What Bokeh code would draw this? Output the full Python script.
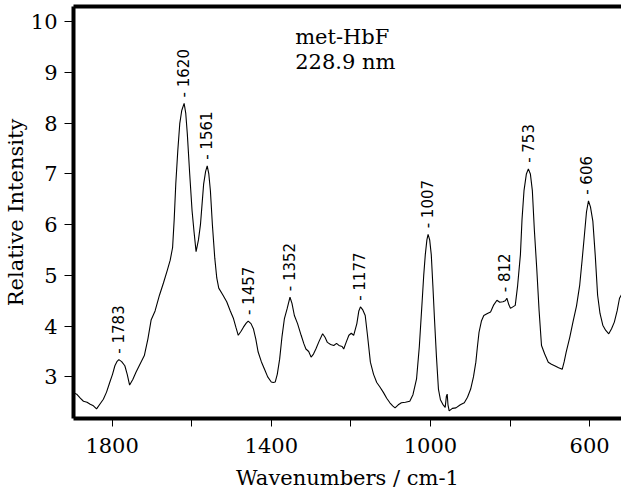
import math
from bokeh.plotting import figure
from bokeh.models import Range1d, FixedTicker, LinearAxis, Label
from bokeh.core.properties import value
from bokeh.embed import file_html
from bokeh.resources import INLINE

# Spectrum (wavenumber in cm-1, relative intensity)
wavenumber = [1897, 1889, 1880, 1872, 1863, 1855, 1847, 1839, 1830, 1822, 1814, 1806, 1799, 1793,
              1788, 1783, 1776, 1768, 1762, 1756, 1748, 1740, 1730, 1719, 1710, 1702, 1692, 1681,
              1671, 1661, 1654, 1648, 1644, 1640, 1635, 1630, 1625, 1619, 1615, 1611, 1605, 1599,
              1594, 1589, 1583, 1578, 1574, 1570, 1565, 1561, 1557, 1553, 1548, 1542, 1537, 1532,
              1522, 1512, 1503, 1495, 1489, 1483, 1476, 1470, 1463, 1458, 1451, 1445, 1439, 1433,
              1425, 1417, 1409, 1400, 1395, 1390, 1385, 1379, 1373, 1367, 1360, 1353, 1348, 1342,
              1334, 1325, 1318, 1313, 1306, 1300, 1294, 1288, 1280, 1271, 1265, 1259, 1251, 1243,
              1236, 1230, 1222, 1218, 1211, 1205, 1199, 1193, 1185, 1180, 1176, 1170, 1164, 1158,
              1151, 1143, 1135, 1127, 1118, 1110, 1102, 1095, 1089, 1081, 1073, 1063, 1052, 1044,
              1035, 1028, 1021, 1017, 1013, 1009, 1006, 1002, 998, 994, 990, 985, 980, 975, 969,
              963, 960, 958, 956, 953, 945, 936, 925, 915, 907, 899, 892, 886, 882, 878, 872, 866,
              857, 849, 841, 833, 826, 818, 812, 808, 803, 799, 793, 787, 781, 774, 770, 765, 759,
              754, 749, 744, 739, 733, 727, 721, 713, 704, 696, 688, 678, 669, 664, 659, 650, 642,
              633, 625, 619, 613, 608, 603, 598, 592, 586, 580, 574, 567, 560, 552, 545, 538, 531,
              525, 520]
intensity = [2.69, 2.66, 2.58, 2.52, 2.50, 2.46, 2.43, 2.37, 2.47, 2.56, 2.70, 2.89, 3.05, 3.22,
             3.30, 3.34, 3.30, 3.22, 3.05, 2.84, 2.95, 3.09, 3.25, 3.42, 3.75, 4.12, 4.30, 4.61,
             4.85, 5.11, 5.30, 5.55, 6.10, 6.80, 7.45, 7.99, 8.25, 8.39, 8.20, 7.79, 7.00, 6.27,
             5.85, 5.47, 5.70, 6.00, 6.40, 6.80, 7.05, 7.16, 7.00, 6.67, 6.00, 5.34, 4.95, 4.75,
             4.62, 4.48, 4.30, 4.15, 3.98, 3.82, 3.90, 3.98, 4.06, 4.10, 4.05, 3.95, 3.75, 3.49,
             3.30, 3.15, 3.00, 2.90, 2.89, 2.90, 3.05, 3.35, 3.80, 4.15, 4.35, 4.57, 4.45, 4.21,
             4.05, 3.82, 3.65, 3.55, 3.50, 3.39, 3.45, 3.55, 3.70, 3.85, 3.78, 3.68, 3.64, 3.62,
             3.66, 3.62, 3.60, 3.55, 3.70, 3.82, 3.86, 3.82, 4.05, 4.30, 4.38, 4.32, 4.21, 3.80,
             3.29, 3.05, 2.89, 2.80, 2.69, 2.58, 2.49, 2.43, 2.39, 2.45, 2.49, 2.50, 2.52, 2.65,
             2.96, 3.60, 4.48, 5.00, 5.41, 5.70, 5.81, 5.70, 5.41, 4.80, 4.15, 3.40, 2.76, 2.55, 2.46,
             2.40, 2.62, 2.66, 2.45, 2.33, 2.38, 2.39, 2.45, 2.49, 2.60, 2.76, 3.00, 3.29, 3.60, 3.88, 4.10, 4.21,
             4.25, 4.28, 4.42, 4.51, 4.47, 4.48, 4.50, 4.55, 4.42, 4.35, 4.38, 4.41, 4.80, 5.41, 6.10, 6.67, 7.00,
             7.10, 7.00, 6.67, 5.90, 5.14, 4.30, 3.62, 3.45, 3.29, 3.25, 3.22, 3.18, 3.15, 3.30, 3.49, 3.78, 4.08,
             4.40, 4.81, 5.30, 5.81, 6.25, 6.47, 6.35, 6.07, 5.40, 4.61, 4.25, 4.02, 3.92, 3.85, 3.95, 4.08, 4.30,
             4.55, 4.62]

# Labelled peaks
peak_wn = [1783, 1620, 1561, 1457, 1352, 1177, 1007, 812, 753, 606]
peak_int = [3.34, 8.39, 7.16, 4.10, 4.57, 4.38, 5.81, 4.55, 7.10, 6.47]
peak_text = ["- " + str(w) for w in peak_wn]

x_ticks = [1800, 1400, 1000, 600]
x_minor = [1600, 1200, 800]
y_ticks = [3, 4, 5, 6, 7, 8, 9, 10]

SERIF = "'DejaVu Serif', serif"
SANS = "'DejaVu Sans', sans-serif"

p = figure(width=621, height=492, x_range=Range1d(1897, 520), y_range=Range1d(2.18, 10.3),
           output_backend="svg", toolbar_location=None,
           min_border_left=67, min_border_right=0, min_border_top=6, min_border_bottom=70)
p.grid.visible = False
p.outline_line_color = None
p.background_fill_color = "white"
p.border_fill_color = "white"

p.line(wavenumber, intensity, line_color="black", line_width=1.1)

p.text(x=peak_wn, y=peak_int, text=peak_text, angle=math.pi / 2,
       text_align="left", text_baseline="middle", y_offset=-6,
       text_font=value(SANS), text_font_size="15px", text_color="black")

p.add_layout(Label(x=1340, y=9.93, text="met-HbF", text_baseline="top",
                   text_font=SERIF, text_font_size="21px", text_color="black"))
p.add_layout(Label(x=1340, y=9.45, text="228.9 nm", text_baseline="top",
                   text_font=SERIF, text_font_size="21px", text_color="black"))

xa = p.xaxis[0]
xa.ticker = FixedTicker(ticks=x_ticks, minor_ticks=x_minor)
xa.axis_label = "Wavenumbers / cm-1"
ya = p.yaxis[0]
ya.ticker = FixedTicker(ticks=y_ticks)
ya.axis_label = "Relative Intensity"

for ax in (xa, ya):
    ax.axis_line_width = 4
    ax.axis_line_color = "black"
    ax.major_tick_in = 0
    ax.major_tick_out = 8
    ax.minor_tick_in = 0
    ax.minor_tick_out = 8
    ax.major_tick_line_color = "black"
    ax.minor_tick_line_color = "black"
    ax.major_label_text_font = SERIF
    ax.major_label_text_font_size = "21px"
    ax.major_label_text_color = "black"
    ax.axis_label_text_font = SERIF
    ax.axis_label_text_font_size = "21px"
    ax.axis_label_text_font_style = "normal"
    ax.axis_label_text_color = "black"

ya.minor_tick_line_color = None
ya.major_tick_out = 9
ya.major_label_standoff = 7
ya.axis_label_standoff = 0
xa.major_label_standoff = 11
xa.axis_label_standoff = 10

top = LinearAxis(ticker=FixedTicker(ticks=[]), axis_line_width=4, axis_line_color="black",
                 major_tick_out=0, major_tick_in=0, minor_tick_out=0, minor_tick_in=0,
                 major_label_text_font_size="0px", major_label_standoff=0)
p.add_layout(top, "above")

open("out.html", "w").write(file_html(p, INLINE))
